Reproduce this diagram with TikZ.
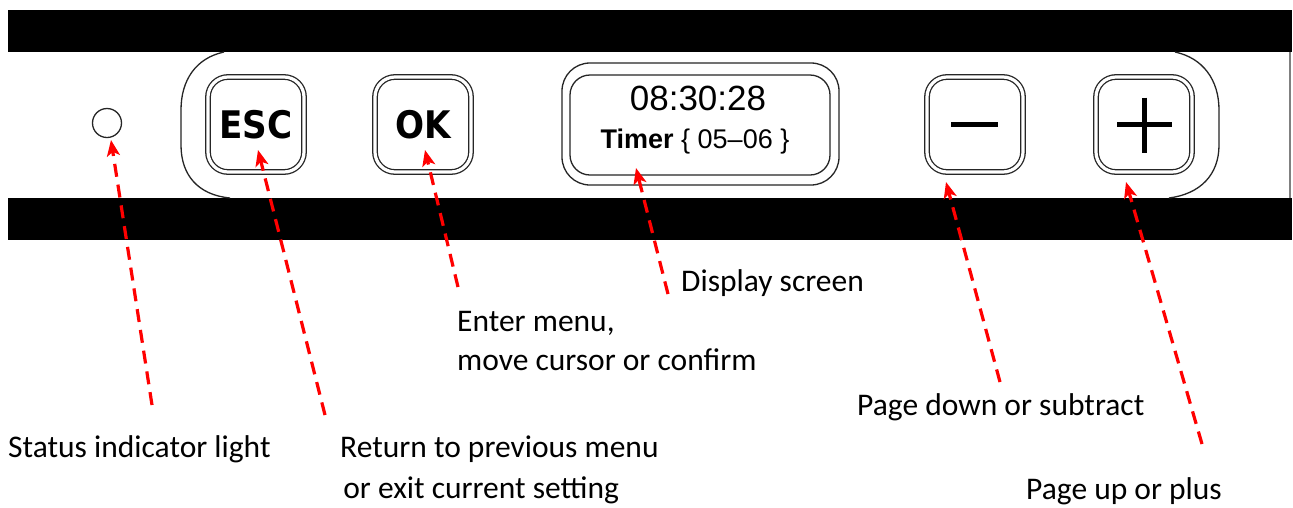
\documentclass[tikz,border=0pt]{standalone}
\usepackage{fontspec}
\setmainfont{Carlito}
\newfontfamily\btnfont{DejaVu Sans Condensed}
\newfontfamily\lcdfont{Liberation Sans}
\usetikzlibrary{arrows.meta}
\begin{document}
\begin{tikzpicture}[x=1pt,y=-1pt,
  edge/.style={draw=black!85, line width=1.3pt},
  btn/.style={edge, double=white, double distance=3.2pt, rounded corners=20pt,
    minimum width=96pt, minimum height=95pt, inner sep=0pt,
    font=\btnfont\bfseries\fontsize{38}{38}\selectfont},
  glyph/.style={line width=5pt},
  callout/.style={draw=red, line width=3.2pt, dash pattern=on 13pt off 8pt,
    -{Stealth[length=16pt,width=13pt,inset=4pt]}},
  lbl/.style={font=\fontsize{31.5}{38}\selectfont, anchor=base west, inner sep=0pt},
  lcd/.style={font=\lcdfont\fontsize{35}{35}\selectfont, anchor=base, inner sep=0pt}
]
\useasboundingbox (0,0) rectangle (1293,507);
\fill[white] (0,0) rectangle (1293,507);

% housing bands
\fill[black] (8,10) rectangle (1292,52);
\fill[black] (8,198) rectangle (1292,240);
\draw[gray, line width=1.2pt] (1290,52) -- (1290,198);

% rounded housing ends
\draw[edge] (224,52) .. controls (196,58) and (181,80) .. (181,110) -- (181,145)
  .. controls (181,175) and (198,195) .. (230,198);
\draw[edge] (1175,52) .. controls (1203,58) and (1219,80) .. (1219,110) -- (1219,145)
  .. controls (1219,175) and (1200,194) .. (1169,198);

% status light
\node[edge, circle, minimum size=29pt, inner sep=0pt] (led) at (107,123) {};

% buttons
\node[btn] (esc) at (256,124.5) {ESC};
\node[btn] (ok) at (423,124.5) {OK};
\node[btn] (minus) at (975,124.5) {};
\node[btn] (plus) at (1144,124.5) {};
\draw[glyph] ([xshift=-24pt]minus.center) -- ([xshift=23pt]minus.center);
\draw[glyph] ([xshift=-27pt]plus.center) -- ([xshift=28pt]plus.center);
\draw[glyph] ([yshift=27pt]plus.center) -- ([yshift=-28pt]plus.center);

% display
\node[edge, rounded corners=20pt, minimum width=260pt, minimum height=100pt, inner sep=0pt] (disp) at (700,125) {};
\draw[edge, rounded corners=28pt] (562,63) rectangle (839,185);
\node[lcd] (time) at (698,110) {08:30:28};
\node[lcd, font=\lcdfont\fontsize{27}{27}\selectfont] (timer) at (695,148) {{\bfseries Timer} \{ 05–06 \}};

% callout end points
\coordinate (ledtip) at (111,140);   \coordinate (ledtail) at (152,405);
\coordinate (esctip) at (258,150);   \coordinate (esctail) at (325,415);
\coordinate (oktip) at (425,150);    \coordinate (oktail) at (458,287);
\coordinate (disptip) at (636,168);  \coordinate (disptail) at (668,294);
\coordinate (minustip) at (946,182); \coordinate (minustail) at (1000,382);
\coordinate (plustip) at (1126,182); \coordinate (plustail) at (1202,444);

\draw[callout] (ledtail) -- (ledtip);
\draw[callout] (esctail) -- (esctip);
\draw[callout] (oktail) -- (oktip);
\draw[callout] (disptail) -- (disptip);
\draw[callout] (minustail) -- (minustip);
\draw[callout] (plustail) -- (plustip);

% labels
\node[lbl] (lled) at (8,457) {Status indicator light};
\node[lbl] (lesc1) at (340,457) {Return to previous menu};
\node[lbl] (lesc2) at (336,498) {\ or exit current setting};
\node[lbl] (lok1) at (457,331) {Enter menu,};
\node[lbl] (lok2) at (457,370) {move cursor or confirm};
\node[lbl] (ldisp) at (681,291) {Display screen};
\node[lbl] (lminus) at (857,415) {Page down or subtract};
\node[lbl] (lplus) at (1026,499) {Page up or plus};
\end{tikzpicture}
\end{document}
